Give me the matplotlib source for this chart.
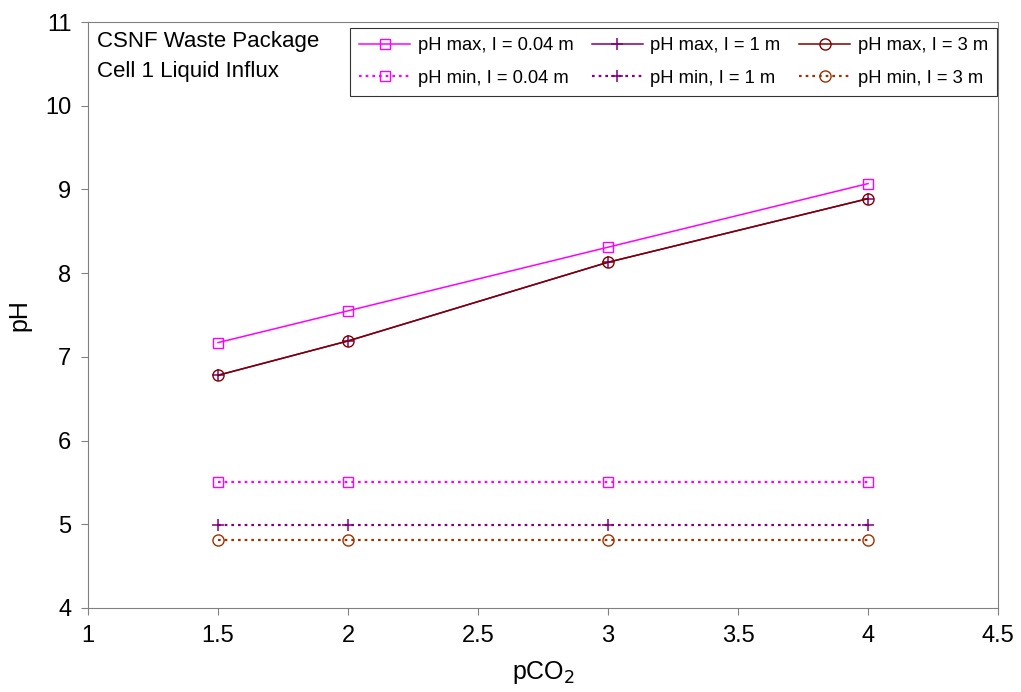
import matplotlib
matplotlib.use("Agg")
import matplotlib.pyplot as plt

plt.rcParams['font.family'] = ['Liberation Sans', 'DejaVu Sans']

# pCO2 values
pco2 = [1.5, 2, 3, 4]

# pH values
ph_max_004 = [7.17, 7.55, 8.31, 9.07]
ph_max_1 = [6.78, 7.19, 8.13, 8.89]
ph_max_3 = [6.78, 7.19, 8.13, 8.89]
ph_min_004 = [5.51, 5.51, 5.51, 5.51]
ph_min_1 = [4.99, 4.99, 4.99, 4.99]
ph_min_3 = [4.81, 4.81, 4.81, 4.81]

labels = ['pH max, I = 0.04 m', 'pH min, I = 0.04 m',
          'pH max, I = 1 m', 'pH min, I = 1 m',
          'pH max, I = 3 m', 'pH min, I = 3 m']

xticks = [1, 1.5, 2, 2.5, 3, 3.5, 4, 4.5]
xticklabels = ['1', '1.5', '2', '2.5', '3', '3.5', '4', '4.5']

fig = plt.figure(figsize=(10.21, 6.92), dpi=100)
ax = fig.add_axes([0.0862, 0.1214, 0.8913, 0.8468])

dots = (0, (1.2, 1.8))
ax.plot(pco2, ph_max_004, '-', color='#ff00ff', lw=1.1, marker='s', ms=7.5,
        mfc='none', mec='#ff00ff', label=labels[0])
ax.plot(pco2, ph_min_004, linestyle=dots, color='#ff00ff', lw=1.6, marker='s',
        ms=7.5, mfc='none', mec='#ff00ff', label=labels[1])
ax.plot(pco2, ph_max_1, '-', color='#800080', lw=1.1, marker='+', ms=9,
        mew=1.1, label=labels[2])
ax.plot(pco2, ph_min_1, linestyle=dots, color='#800080', lw=1.6, marker='+',
        ms=9, mew=1.1, label=labels[3])
ax.plot(pco2, ph_max_3, '-', color='#800000', lw=1.1, marker='o', ms=8,
        mfc='none', mec='#800000', label=labels[4])
ax.plot(pco2, ph_min_3, linestyle=dots, color='#993300', lw=1.6, marker='o',
        ms=8, mfc='none', mec='#993300', label=labels[5])

ax.set_xlim(1, 4.5)
ax.set_ylim(4, 11)
ax.set_xticks(xticks)
ax.set_xticklabels(xticklabels)
ax.set_yticks(range(4, 12))
ax.tick_params(labelsize=17, direction='out', length=5, color='#808080', pad=7)
for s in ax.spines.values():
    s.set_color('#808080')

ax.set_xlabel('pCO$_2$', fontsize=18, labelpad=9)
ax.set_ylabel('pH', fontsize=18, labelpad=10)

ax.text(0.01, 0.985, 'CSNF Waste Package\nCell 1 Liquid Influx',
        transform=ax.transAxes, fontsize=16, va='top', ha='left',
        linespacing=1.55)

leg = ax.legend(loc='upper right', bbox_to_anchor=(0.999, 0.99), ncol=3,
                fontsize=13.2, frameon=True, fancybox=False, handlelength=2.8,
                columnspacing=1.0, handletextpad=0.4, borderpad=0.5,
                borderaxespad=0, labelspacing=0.85)
leg.get_frame().set_edgecolor('black')
leg.get_frame().set_linewidth(0.8)

fig.savefig('out.png', dpi=100)
